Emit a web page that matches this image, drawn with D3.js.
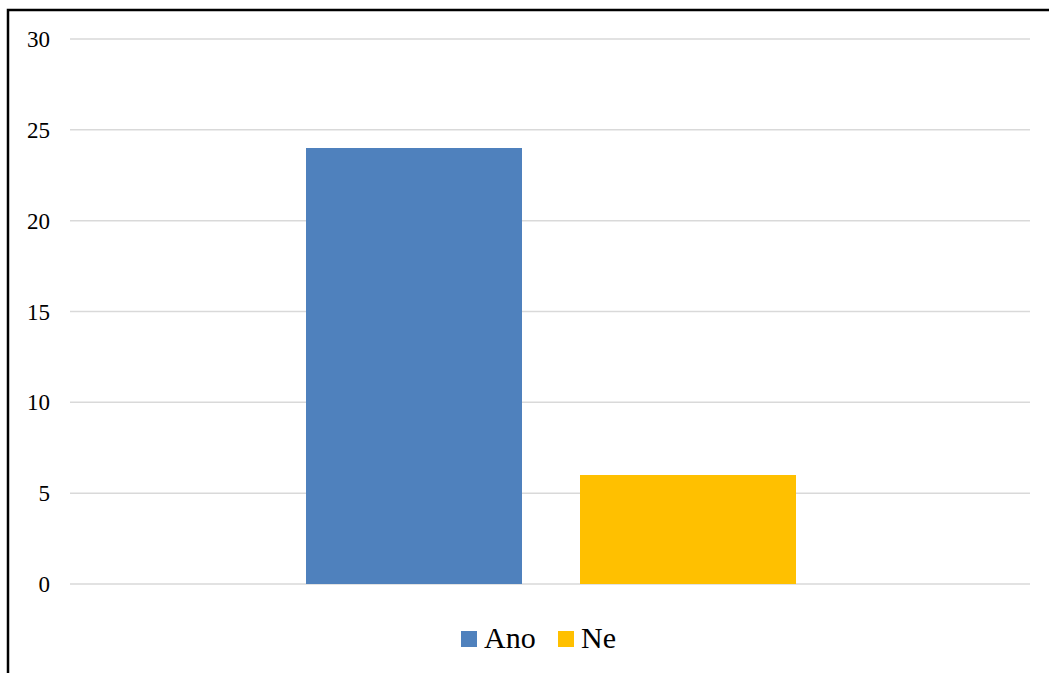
<!DOCTYPE html>
<html>
<head>
<meta charset="utf-8">
<script src="https://cdn.jsdelivr.net/npm/d3@7"></script>
<style>
  body { margin: 0; background: #fff; }
  svg { display: block; }
</style>
</head>
<body>
<svg id="chart" width="1049" height="673"></svg>
<script>
  // data
  var categories = ['Ano', 'Ne'];
  var values = [24, 6];
  var colors = ['#4F81BD', '#FFC000'];
  var yTicks = [0, 5, 10, 15, 20, 25, 30];

  var serif = "'Times New Roman', Times, 'Liberation Serif', 'DejaVu Serif', serif";

  var svg = d3.select('#chart');
  var W = 1049, H = 673;
  var m = {left: 70, right: 19, top: 39, bottom: 89};

  // frame: left and top only
  svg.append('path')
    .attr('d', 'M8,673 L8,10 L1049,10')
    .attr('fill', 'none')
    .attr('stroke', '#000')
    .attr('stroke-width', 2.5);

  var y = d3.scaleLinear().domain([0, 30]).range([H - m.bottom, m.top]);

  var g = svg.append('g');

  g.selectAll('line.grid')
    .data(yTicks)
    .enter().append('line')
      .attr('class', 'grid')
      .attr('x1', m.left)
      .attr('x2', W - m.right)
      .attr('y1', function(d) { return y(d); })
      .attr('y2', function(d) { return y(d); })
      .attr('stroke', '#d9d9d9')
      .attr('stroke-width', 1.5);

  g.selectAll('text.tick')
    .data(yTicks)
    .enter().append('text')
      .attr('class', 'tick')
      .attr('x', 50)
      .attr('y', function(d) { return y(d) + 8; })
      .attr('text-anchor', 'end')
      .style('font-family', serif)
      .style('font-size', '23px')
      .attr('fill', '#000')
      .text(function(d) { return d; });

  // bars sit in the middle of the plot
  var bx = d3.scaleBand().domain(categories).range([306, 796]).paddingInner(58 / 274);

  g.selectAll('rect.bar')
    .data(values)
    .enter().append('rect')
      .attr('class', 'bar')
      .attr('x', function(d, i) { return bx(categories[i]); })
      .attr('width', bx.bandwidth())
      .attr('y', function(d) { return y(d); })
      .attr('height', function(d) { return y(0) - y(d); })
      .attr('fill', function(d, i) { return colors[i]; });

  // legend
  var legendX = [461, 558];
  var lg = svg.append('g');
  categories.forEach(function(c, i) {
    lg.append('rect')
      .attr('x', legendX[i]).attr('y', 631)
      .attr('width', 16).attr('height', 16)
      .attr('fill', colors[i]);
    lg.append('text')
      .attr('x', legendX[i] + 23).attr('y', 648)
      .style('font-family', serif)
      .style('font-size', '30px')
      .attr('fill', '#000')
      .text(c);
  });
</script>
</body>
</html>
